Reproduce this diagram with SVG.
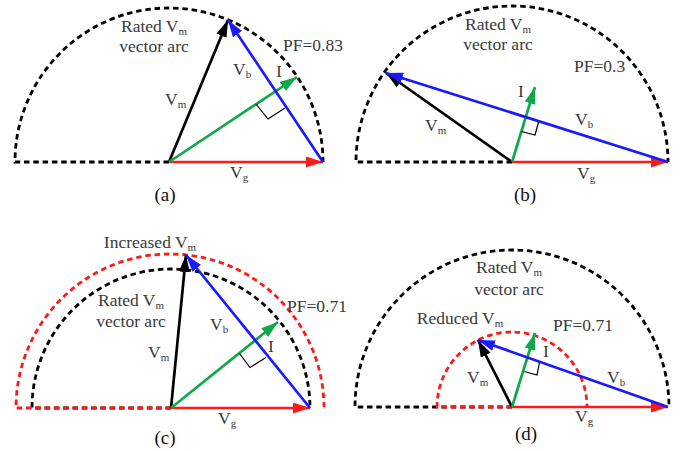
<svg xmlns="http://www.w3.org/2000/svg" width="687" height="451" viewBox="0 0 687 451">
<style>
.arc{fill:none;stroke-width:2.8;stroke-dasharray:5.5 3.8}
.blk{stroke:#000}
.red{stroke:#ff1a1a}
.vec{stroke-width:2.7;fill:none}
.ra{fill:none;stroke:#000;stroke-width:1.2}
text{font-family:"Liberation Serif","Times New Roman",serif;font-size:17.5px;fill:#3a3a3a}
.sub{font-size:11px}
.cap{font-size:19px;fill:#111}
.mid{text-anchor:middle}
</style>
<defs>
<marker id="ak" markerUnits="userSpaceOnUse" markerWidth="17" markerHeight="11" refX="17" refY="5.5" orient="auto"><path d="M0,0 L17,5.5 L0,11 z" fill="#000"/></marker>
<marker id="ab" markerUnits="userSpaceOnUse" markerWidth="17" markerHeight="11" refX="17" refY="5.5" orient="auto"><path d="M0,0 L17,5.5 L0,11 z" fill="#1a1aff"/></marker>
<marker id="ag" markerUnits="userSpaceOnUse" markerWidth="17" markerHeight="11" refX="17" refY="5.5" orient="auto"><path d="M0,0 L17,5.5 L0,11 z" fill="#10a84a"/></marker>
<marker id="ar" markerUnits="userSpaceOnUse" markerWidth="17" markerHeight="11" refX="17" refY="5.5" orient="auto"><path d="M0,0 L17,5.5 L0,11 z" fill="#ff1a1a"/></marker>
</defs>

<!-- Panel (a) -->
<g id="panel-a">
<g id="a-arc"><path class="arc blk" d="M169,162 L15,162 A154,154 0 0 1 323,162"/></g>
<g id="a-connectors">
<line class="vec" stroke="#ff1a1a" x1="169" y1="162" x2="323" y2="162" marker-end="url(#ar)"/>
<line class="vec" stroke="#000" x1="169" y1="162" x2="228" y2="20" marker-end="url(#ak)"/>
<line class="vec" stroke="#10a84a" x1="169" y1="162" x2="297" y2="77" marker-end="url(#ag)"/>
<line class="vec" stroke="#1a1aff" x1="323" y1="162" x2="228" y2="20" marker-end="url(#ab)"/>
<polyline class="ra" points="256,104 268,119 285,108"/>
</g>
<g id="a-labels">
<text class="mid" x="154" y="32">Rated V<tspan class="sub" dy="3">m</tspan></text>
<text class="mid" x="154" y="52">vector arc</text>
<text x="283" y="51">PF=0.83</text>
<text x="233" y="75">V<tspan class="sub" dy="3">b</tspan></text>
<text x="276" y="77">I</text>
<text x="165" y="105">V<tspan class="sub" dy="3">m</tspan></text>
<text x="230" y="178">V<tspan class="sub" dy="3">g</tspan></text>
<text class="cap mid" x="165" y="201">(a)</text>
</g>
</g>

<!-- Panel (b) -->
<g id="panel-b">
<g id="b-arc"><path class="arc blk" d="M512,162 L356,162 A156,156 0 0 1 668,162"/></g>
<g id="b-connectors">
<line class="vec" stroke="#ff1a1a" x1="512" y1="162" x2="668" y2="162" marker-end="url(#ar)"/>
<line class="vec" stroke="#000" x1="512" y1="162" x2="386" y2="73" marker-end="url(#ak)"/>
<line class="vec" stroke="#10a84a" x1="512" y1="162" x2="535" y2="87" marker-end="url(#ag)"/>
<line class="vec" stroke="#1a1aff" x1="668" y1="162" x2="386" y2="73" marker-end="url(#ab)"/>
<polyline class="ra" points="521.5,131.5 535,135 538.5,122"/>
</g>
<g id="b-labels">
<text class="mid" x="498" y="30">Rated V<tspan class="sub" dy="3">m</tspan></text>
<text class="mid" x="498" y="50">vector arc</text>
<text x="574" y="72">PF=0.3</text>
<text x="518" y="97">I</text>
<text x="425" y="131">V<tspan class="sub" dy="3">m</tspan></text>
<text x="575" y="125">V<tspan class="sub" dy="3">b</tspan></text>
<text x="577" y="179">V<tspan class="sub" dy="3">g</tspan></text>
<text class="cap mid" x="525" y="201">(b)</text>
</g>
</g>

<!-- Panel (c) -->
<g id="panel-c">
<g id="c-arcs">
<path class="arc blk" d="M171,408 L32,408 A139,139 0 0 1 310,408"/>
<path class="arc red" d="M171,408 L16,408 A154,154 0 0 1 324,408"/>
</g>
<g id="c-connectors">
<line class="vec" stroke="#ff1a1a" x1="171" y1="408" x2="310" y2="408" marker-end="url(#ar)"/>
<line class="vec" stroke="#000" x1="171" y1="408" x2="186" y2="255" marker-end="url(#ak)"/>
<line class="vec" stroke="#10a84a" x1="171" y1="408" x2="278" y2="322" marker-end="url(#ag)"/>
<line class="vec" stroke="#1a1aff" x1="310" y1="408" x2="186" y2="255" marker-end="url(#ab)"/>
<polyline class="ra" points="239.5,353.5 250,367.5 266,357.5"/>
</g>
<g id="c-labels">
<text class="mid" x="150" y="248">Increased V<tspan class="sub" dy="3">m</tspan></text>
<text class="mid" x="131" y="306">Rated V<tspan class="sub" dy="2.5">m</tspan></text>
<text class="mid" x="131" y="327">vector arc</text>
<text x="287" y="312">PF=0.71</text>
<text x="210" y="330">V<tspan class="sub" dy="3">b</tspan></text>
<text x="268" y="352">I</text>
<text x="148" y="358">V<tspan class="sub" dy="3">m</tspan></text>
<text x="218" y="424">V<tspan class="sub" dy="3">g</tspan></text>
<text class="cap mid" x="165" y="444">(c)</text>
</g>
</g>

<!-- Panel (d) -->
<g id="panel-d">
<g id="d-arcs">
<path class="arc blk" d="M512,407 L355,407 A157,157 0 0 1 669,407"/>
<path class="arc red" d="M512,407 L437,407 A75,75 0 0 1 587,407"/>
</g>
<g id="d-connectors">
<line class="vec" stroke="#ff1a1a" x1="512" y1="407" x2="668" y2="407" marker-end="url(#ar)"/>
<line class="vec" stroke="#000" x1="512" y1="407" x2="478" y2="340" marker-end="url(#ak)"/>
<line class="vec" stroke="#10a84a" x1="512" y1="407" x2="535" y2="333" marker-end="url(#ag)"/>
<line class="vec" stroke="#1a1aff" x1="668" y1="407" x2="478" y2="340" marker-end="url(#ab)"/>
<polyline class="ra" points="524.5,371.5 537,375 539.5,362.5"/>
</g>
<g id="d-labels">
<text class="mid" x="509" y="273">Rated V<tspan class="sub" dy="3">m</tspan></text>
<text class="mid" x="509" y="295">vector arc</text>
<text class="mid" x="460" y="324">Reduced V<tspan class="sub" dy="3">m</tspan></text>
<text x="553" y="331">PF=0.71</text>
<text x="543" y="357">I</text>
<text x="467" y="383">V<tspan class="sub" dy="3">m</tspan></text>
<text x="607" y="383">V<tspan class="sub" dy="3">b</tspan></text>
<text x="575" y="422">V<tspan class="sub" dy="3">g</tspan></text>
<text class="cap mid" x="526" y="440">(d)</text>
</g>
</g>
</svg>
